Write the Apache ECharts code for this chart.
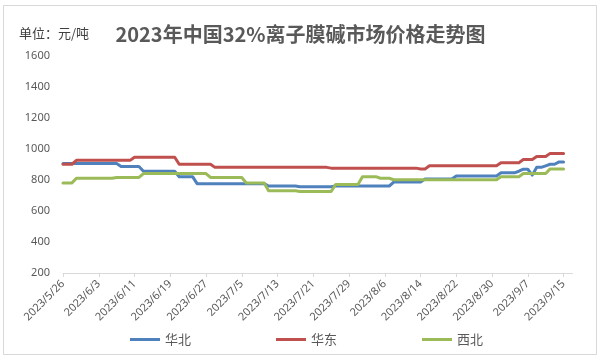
<!DOCTYPE html>
<html>
<head>
<meta charset="utf-8">
<script src="https://cdn.jsdelivr.net/npm/echarts@6/dist/echarts.min.js"></script>
<style>
html,body{margin:0;padding:0;background:#fff;}
#chart{width:601px;height:363px;}
</style>
</head>
<body>
<div id="chart"></div>
<script>
// ---- data ----
const titleText = '2023年中国32%离子膜碱市场价格走势图';
const unitText = '单位：元/吨';
const seriesNames = ['华北', '华东', '西北'];
const yTicks = [200, 400, 600, 800, 1000, 1200, 1400, 1600];

// daily categories 2023/5/26 .. 2023/9/17
const categories = (function () {
  const out = [];
  const d = new Date(2023, 4, 26);
  const end = new Date(2023, 8, 17);
  while (d <= end) {
    out.push(d.getFullYear() + '/' + (d.getMonth() + 1) + '/' + d.getDate());
    d.setDate(d.getDate() + 1);
  }
  return out;
})();

const huabei = [
  905,905,905,905,905,905,905,905,905,905,905,905,905,
  885,885,885,885,885,
  855,855,855,855,855,855,855,855,
  820,820,820,820,
  775,775,775,775,775,775,775,775,775,775,775,775,775,775,775,775,
  760,760,760,760,760,760,760,
  755,755,755,755,755,755,755,755,
  760,760,760,760,760,760,760,760,760,760,760,760,760,
  785,785,785,785,785,785,785,
  805,805,805,805,805,805,805,
  825,825,825,825,825,825,825,825,825,825,
  845,845,845,845,
  855,
  868,868,
  830,
  880,880,
  890,
  900,900,
  915,915,
  null,null
];

const huadong = [
  900,900,900,
  925,925,925,925,925,925,925,925,925,925,925,925,925,
  945,945,945,945,945,945,945,945,945,945,
  900,900,900,900,900,900,900,900,
  880,880,880,880,880,880,880,880,880,880,880,880,880,880,880,880,880,880,880,880,880,880,880,880,880,880,
  875,875,875,875,875,875,875,875,875,875,875,875,875,875,875,875,875,875,875,875,
  870,870,
  890,890,890,890,890,890,890,890,890,890,890,890,890,890,890,890,
  910,910,910,910,910,
  930,930,930,
  950,950,950,
  970,970,970,970,
  null,null
];

const xibei = [
  780,780,780,
  810,810,810,810,810,810,810,810,810,
  815,815,815,815,815,815,
  840,840,840,840,840,840,840,840,840,840,840,840,840,840,840,
  815,815,815,815,815,815,815,815,
  780,780,780,780,780,
  730,730,730,730,730,730,730,
  725,725,725,725,725,725,725,725,
  770,770,770,770,770,770,
  820,820,820,820,
  810,810,810,
  800,800,800,800,800,800,800,800,800,800,800,800,800,800,800,800,800,800,800,800,800,800,800,800,
  820,820,820,820,820,
  840,840,840,840,840,840,
  870,870,870,870,
  null,null
];

const colors = ['#4F81BD', '#C0504D', '#9BBB59'];
const seriesData = [huabei, huadong, xibei];

// ---- chart ----
const chart = echarts.init(document.getElementById('chart'), null, {renderer: 'canvas'});
const numFont = '"Noto Sans", "Liberation Sans", sans-serif';
const cjkFont = '"Noto Sans CJK SC", "Noto Sans", sans-serif';

chart.setOption({
  animation: false,
  backgroundColor: '#fff',
  title: [
    {
      text: titleText,
      left: 'center',
      top: 19,
      textStyle: {fontFamily: cjkFont, fontSize: 20, fontWeight: 'bold', color: '#595959'}
    },
    {
      text: unitText,
      left: 14,
      top: 22,
      textStyle: {fontFamily: cjkFont, fontSize: 13, fontWeight: 'normal', color: '#404040'}
    }
  ],
  graphic: [{
    type: 'rect',
    shape: {x: 3.5, y: 5.5, width: 593, height: 349},
    style: {fill: 'none', stroke: '#d9d9d9', lineWidth: 1},
    silent: true
  }],
  legend: {
    data: seriesNames,
    left: 125,
    top: 328,
    icon: 'rect',
    itemWidth: 30,
    itemHeight: 3,
    itemGap: 85,
    textStyle: {fontFamily: cjkFont, fontSize: 13, color: '#595959'}
  },
  grid: {left: 63, right: 28.5, top: 55.5, bottom: 90},
  xAxis: {
    type: 'category',
    data: categories,
    boundaryGap: false,
    axisLine: {lineStyle: {color: '#d9d9d9', width: 1}},
    axisTick: {show: true, interval: 7, length: 4, lineStyle: {color: '#d9d9d9'}},
    axisLabel: {
      interval: 7,
      rotate: 45,
      margin: 9,
      fontFamily: numFont,
      fontSize: 11,
      color: '#595959'
    },
    splitLine: {show: false}
  },
  yAxis: {
    type: 'value',
    min: yTicks[0],
    max: yTicks[yTicks.length - 1],
    interval: 200,
    axisLine: {show: false},
    axisTick: {show: false},
    splitLine: {show: false},
    axisLabel: {
      margin: 13,
      fontFamily: numFont,
      fontSize: 11,
      color: '#595959',
      formatter: function (v) { return String(v); }
    }
  },
  series: seriesNames.map((name, i) => ({
    name: name,
    type: 'line',
    data: seriesData[i],
    showSymbol: false,
    symbol: 'none',
    smooth: false,
    connectNulls: false,
    color: colors[i],
    lineStyle: {width: 3, color: colors[i], cap: 'round', join: 'round'}
  }))
});
</script>
</body>
</html>
